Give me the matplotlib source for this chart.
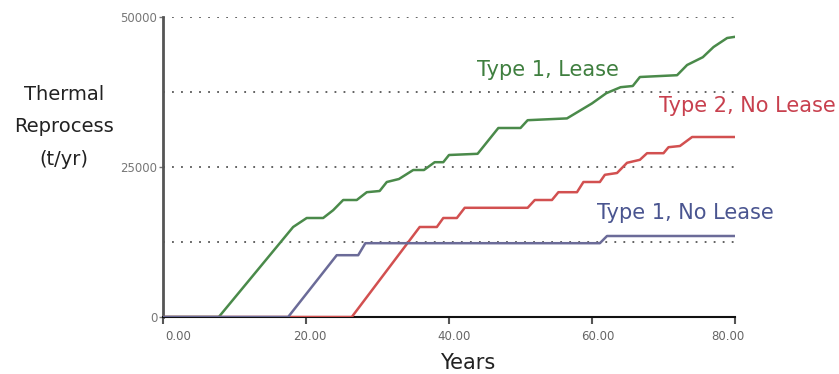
from matplotlib import pyplot as plt

# Thermal reprocessing capacity
green_years = [0, 7.8, 18.2, 20.1, 22.4, 23.8, 25.2, 27.1, 28.5, 30.3, 31.3, 33.0, 35.0, 36.5,
               38.0, 39.2, 40.0, 44.0, 46.9, 50.0, 51.0, 56.5, 60.0, 62.0, 64.0, 65.7, 66.7,
               71.9, 73.3, 75.5, 77.0, 78.9, 80.0]
green_vals = [0, 0, 15000, 16500, 16500, 17800, 19500, 19500, 20800, 21000, 22500, 23000, 24500,
              24500, 25800, 25800, 27000, 27200, 31500, 31500, 32800, 33100, 35600, 37300, 38300,
              38500, 40000, 40300, 42000, 43300, 45000, 46500, 46700]

red_years = [0, 26.4, 35.9, 38.3, 39.2, 41.1, 42.2, 51.0, 52.0, 54.4, 55.3, 57.9, 58.8, 61.1,
             61.8, 63.5, 64.9, 66.7, 67.7, 70.0, 70.7, 72.3, 74.0, 80.0]
red_vals = [0, 0, 15000, 15000, 16500, 16500, 18200, 18200, 19500, 19500, 20800, 20800, 22500,
            22500, 23700, 24000, 25700, 26200, 27300, 27300, 28300, 28500, 30000, 30000]

blue_years = [0, 17.5, 24.3, 27.3, 28.3, 61.1, 62.1, 80.0]
blue_vals = [0, 0, 10300, 10300, 12300, 12300, 13500, 13500]

xticks = [0, 20, 40, 60, 80]
# tick labels sit a little off their ticks in the original
xlabel_pos = [2.1, 20.6, 40.7, 60.8, 79.0]
yticks = [0, 25000, 50000]
grid_levels = [12500, 25000, 37500, 50000]

fig = plt.figure(figsize=(8.39, 3.74), dpi=100)
ax = fig.add_axes([163 / 839, 1 - 317 / 374, 572 / 839, 300 / 374])

for g in grid_levels:
    ax.axhline(g, color="#555555", lw=1.3, ls=(0, (1, 4)), zorder=1)

ax.plot(green_years, green_vals, color="#4a8a4a", lw=1.8, zorder=3)
ax.plot(red_years, red_vals, color="#d25050", lw=1.8, zorder=3)
ax.plot(blue_years, blue_vals, color="#6b6b98", lw=1.8, zorder=3)

ax.set_xlim(0, 80)
ax.set_ylim(0, 50000)
ax.spines["top"].set_visible(False)
ax.spines["right"].set_visible(False)
ax.spines["left"].set_color("#555555")
ax.spines["left"].set_linewidth(2)
ax.spines["bottom"].set_color("#111111")
ax.spines["bottom"].set_linewidth(1.5)

ax.set_xticks(xticks)
ax.set_xticklabels([])
for pos, v in zip(xlabel_pos, xticks):
    ax.text(pos, -0.065, f"{v:.2f}", transform=ax.get_xaxis_transform(), ha="center",
            va="center", fontsize=8.5, color="#666666")
ax.set_yticks(yticks)
ax.set_yticklabels([str(v) for v in yticks])
ax.tick_params(axis="x", length=5, width=1.5, colors="#555555")
ax.tick_params(axis="y", length=3, width=1, colors="#777777", labelsize=8.5, pad=1)

ax.text(53.8, 41200, "Type 1, Lease", color="#3f7f3f", fontsize=15, ha="center", va="center")
ax.text(81.8, 35200, "Type 2, No Lease", color="#c8404e", fontsize=15, ha="center", va="center",
        clip_on=False)
ax.text(73.0, 17300, "Type 1, No Lease", color="#4a5590", fontsize=15, ha="center", va="center",
        clip_on=False)

fig.text(468 / 839, 1 - 363 / 374, "Years", fontsize=15, ha="center", va="center", color="#222222")
fig.text(64 / 839, 1 - 127 / 374, "Thermal\nReprocess\n(t/yr)", fontsize=14, ha="center",
         va="center", linespacing=1.9, color="#222222")

fig.savefig("out.png", dpi=100)
